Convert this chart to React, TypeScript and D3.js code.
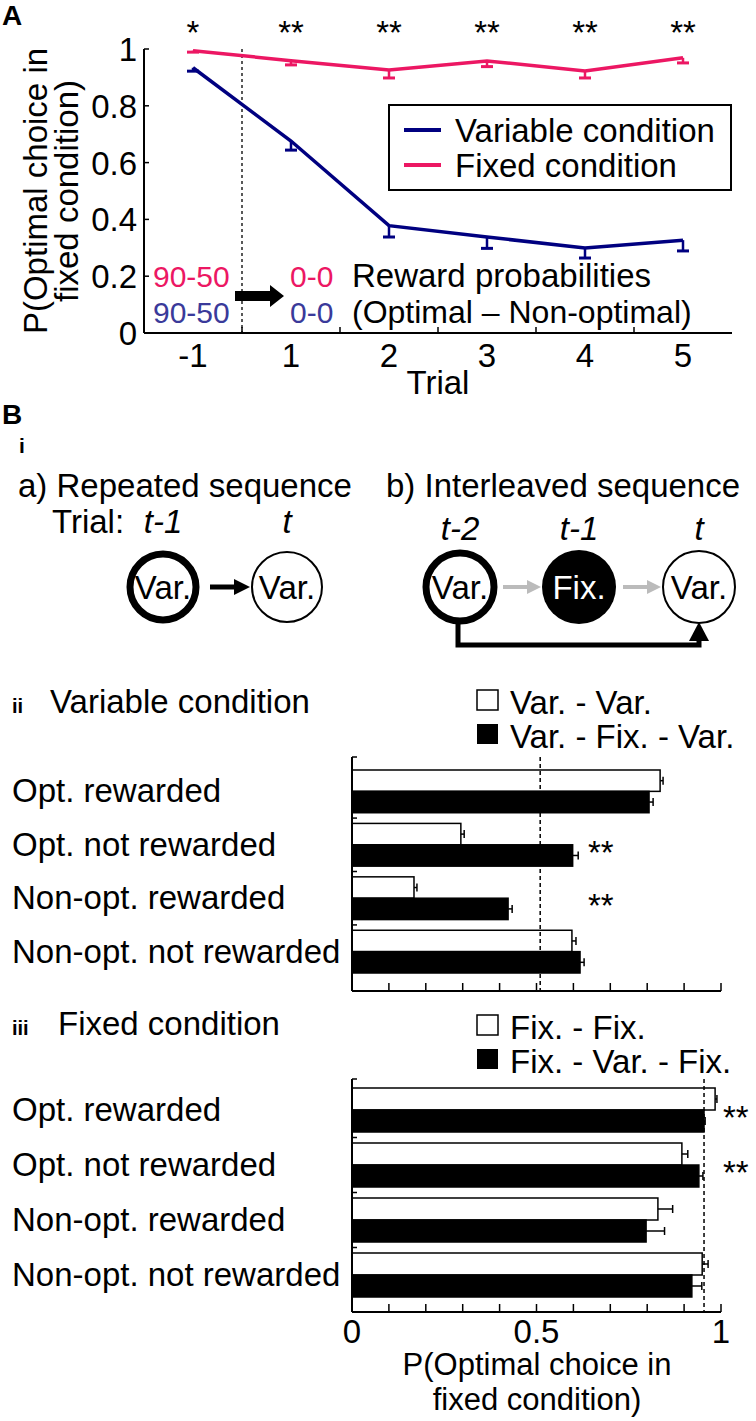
import React from 'react';
import * as d3 from 'd3';

// ---------- Panel A data ----------
const trials = ['-1', '1', '2', '3', '4', '5'];
const variableMean = [0.934, 0.676, 0.378, 0.338, 0.299, 0.327];
const variableErr = [0.012, 0.032, 0.04, 0.04, 0.035, 0.038];
const fixedMean = [0.994, 0.959, 0.926, 0.958, 0.923, 0.969];
const fixedErr = [0.005, 0.015, 0.028, 0.02, 0.025, 0.018];
const sigA = ['*', '**', '**', '**', '**', '**'];
const yTicksA = [0, 0.2, 0.4, 0.6, 0.8, 1];

// ---------- Panel B data ----------
const categories = ['Opt. rewarded', 'Opt. not rewarded', 'Non-opt. rewarded', 'Non-opt. not rewarded'];
const varRepeated = [0.835, 0.295, 0.168, 0.596];
const varRepeatedErr = [0.008, 0.009, 0.008, 0.011];
const varInterleaved = [0.805, 0.598, 0.423, 0.618];
const varInterleavedErr = [0.011, 0.015, 0.011, 0.011];
const varSig = ['', '**', '**', ''];
const varRef = 0.51;

const fixRepeated = [0.984, 0.894, 0.829, 0.949];
const fixRepeatedErr = [0.005, 0.016, 0.04, 0.016];
const fixInterleaved = [0.954, 0.94, 0.797, 0.921];
const fixInterleavedErr = [0.003, 0.011, 0.05, 0.027];
const fixSig = ['**', '**', '', ''];
const fixRef = 0.954;

const xTicksB = d3.range(0, 1.0001, 0.1);
const xTickLabelsB = [0, 0.5, 1];

const FONT = "'Liberation Sans', Arial, Helvetica, sans-serif";
const NAVY = '#000080';
const PINK = '#ec1763';
const BLUE_TXT = '#3a3a9a';

function PanelA() {
  const x = d3.scaleLinear().domain([-0.5, 5.5]).range([144, 732]);
  const y = d3.scaleLinear().domain([0, 1]).range([333, 49]);
  const line = d3.line<number>().x((_, i) => x(i)).y((d) => y(d));
  const boundaries = d3.range(0.5, 5.5, 1);
  const series = [
    { m: variableMean, e: variableErr, c: NAVY },
    { m: fixedMean, e: fixedErr, c: PINK },
  ];
  return (
    <g>
      <text x={2} y={25} fontSize={28} fontWeight="bold">A</text>
      {/* axes */}
      <line x1={144} x2={144} y1={y(1)} y2={y(0)} stroke="#000" strokeWidth={2} />
      <line x1={144} x2={x(5.5)} y1={y(0)} y2={y(0)} stroke="#000" strokeWidth={2} />
      {yTicksA.map((t) => (
        <g key={t}>
          <line x1={144} x2={149} y1={y(t)} y2={y(t)} stroke="#000" strokeWidth={1.5} />
          <text x={137} y={y(t) + 12} fontSize={33} textAnchor="end">{t === 0 || t === 1 ? String(t) : t.toFixed(1)}</text>
        </g>
      ))}
      {boundaries.map((b) => (
        <line key={b} x1={x(b)} x2={x(b)} y1={y(0)} y2={y(0) - 6} stroke="#000" strokeWidth={1.5} />
      ))}
      {trials.map((t, i) => (
        <text key={t} x={x(i)} y={367} fontSize={33} textAnchor="middle">{t}</text>
      ))}
      <text x={(144 + x(5.5)) / 2} y={394} fontSize={33} textAnchor="middle">Trial</text>
      <text transform={`translate(47,${y(0.5)}) rotate(-90)`} fontSize={33} textAnchor="middle">
        <tspan x={0} dy={0}>P(Optimal choice in</tspan>
        <tspan x={0} dy={31}>fixed condition)</tspan>
      </text>
      {/* dashed switch line */}
      <line x1={x(0.5)} x2={x(0.5)} y1={y(1)} y2={y(0)} stroke="#000" strokeWidth={1.3} strokeDasharray="3,3" />
      {/* significance */}
      {sigA.map((s, i) => (
        <text key={i} x={x(i)} y={44} fontSize={33} textAnchor="middle">{s}</text>
      ))}
      {/* series */}
      {series.map((s, k) => (
        <g key={k}>
          <path d={line(s.m) || ''} fill="none" stroke={s.c} strokeWidth={3.5} />
          {s.m.map((m, i) => (
            <g key={i}>
              <line x1={x(i)} x2={x(i)} y1={y(m)} y2={y(m - s.e[i])} stroke={s.c} strokeWidth={2.5} />
              <line x1={x(i) - 6} x2={x(i) + 6} y1={y(m - s.e[i])} y2={y(m - s.e[i])} stroke={s.c} strokeWidth={3} />
            </g>
          ))}
        </g>
      ))}
      {/* legend */}
      <rect x={389} y={105} width={342} height={85} fill="#fff" stroke="#000" strokeWidth={2} />
      <line x1={404} x2={441} y1={130} y2={130} stroke={NAVY} strokeWidth={4} />
      <line x1={404} x2={441} y1={165} y2={165} stroke={PINK} strokeWidth={4} />
      <text x={455} y={142} fontSize={33}>Variable condition</text>
      <text x={455} y={177} fontSize={33}>Fixed condition</text>
      {/* reward annotation */}
      <text x={153} y={287} fontSize={30} fill={PINK}>90-50</text>
      <text x={153} y={323} fontSize={30} fill={BLUE_TXT}>90-50</text>
      <text x={290} y={287} fontSize={30} fill={PINK}>0-0</text>
      <text x={290} y={323} fontSize={30} fill={BLUE_TXT}>0-0</text>
      <text x={352} y={287} fontSize={33}>Reward probabilities</text>
      <text x={352} y={323} fontSize={32}>(Optimal – Non-optimal)</text>
      <path d="M235,291 L270,291 L270,285 L284,296 L270,307 L270,301 L235,301 Z" fill="#000" />
    </g>
  );
}

function Arrow({ x1, x2, y, color, w = 4, hw = 14, hl = 12 }: any) {
  return (
    <g>
      <line x1={x1} x2={x2 - hl} y1={y} y2={y} stroke={color} strokeWidth={w} />
      <path d={`M${x2 - hl},${y - hw / 2} L${x2},${y} L${x2 - hl},${y + hw / 2} Z`} fill={color} />
    </g>
  );
}

function PanelBi() {
  return (
    <g>
      <text x={2} y={424} fontSize={28} fontWeight="bold">B</text>
      <text x={19} y={453} fontSize={21} fontWeight="bold">i</text>
      <text x={18} y={497} fontSize={33}>a) Repeated sequence</text>
      <text x={386} y={497} fontSize={33}>b) Interleaved sequence</text>
      <text x={52} y={533} fontSize={33}>Trial:</text>
      <text x={163} y={533} fontSize={33} fontStyle="italic" textAnchor="middle">t-1</text>
      <text x={287} y={533} fontSize={33} fontStyle="italic" textAnchor="middle">t</text>
      <circle cx={163} cy={587} r={33} fill="#fff" stroke="#000" strokeWidth={7} />
      <circle cx={287} cy={587} r={35} fill="#fff" stroke="#000" strokeWidth={2} />
      <text x={163} y={599} fontSize={33} textAnchor="middle">Var.</text>
      <text x={287} y={599} fontSize={33} textAnchor="middle">Var.</text>
      <Arrow x1={210} x2={250} y={587} color="#000" w={5} hw={16} hl={16} />

      <text x={460} y={540} fontSize={33} fontStyle="italic" textAnchor="middle">t-2</text>
      <text x={579} y={540} fontSize={33} fontStyle="italic" textAnchor="middle">t-1</text>
      <text x={699} y={540} fontSize={33} fontStyle="italic" textAnchor="middle">t</text>
      <path d="M458,620 L458,645 L699,645 L699,632" fill="none" stroke="#000" strokeWidth={5} />
      <path d="M689,641 L699,622 L709,641 Z" fill="#000" />
      <circle cx={460} cy={587} r={34} fill="#fff" stroke="#000" strokeWidth={7} />
      <circle cx={579} cy={587} r={37} fill="#000" />
      <circle cx={699} cy={587} r={36} fill="#fff" stroke="#000" strokeWidth={2} />
      <text x={460} y={599} fontSize={33} textAnchor="middle">Var.</text>
      <text x={579} y={599} fontSize={33} textAnchor="middle" fill="#fff">Fix.</text>
      <text x={699} y={599} fontSize={33} textAnchor="middle">Var.</text>
      <Arrow x1={503} x2={541} y={587} color="#bbbbbb" w={4} hw={14} hl={14} />
      <Arrow x1={623} x2={661} y={587} color="#bbbbbb" w={4} hw={14} hl={14} />
    </g>
  );
}

function BarPanel({ numeral, title, titleX, titleY, legend, legendY, rep, repErr, inter, interErr, sig, ref, axisTop, axisBottom, barTop, barBottom, showXLabels }: any) {
  const x = d3.scaleLinear().domain([0, 1]).range([352, 721]);
  const yb = d3.scaleBand<string>().domain(categories).range([barTop, barBottom]).paddingInner(0.2);
  const bh = yb.bandwidth() / 2;
  const step = yb.step();
  return (
    <g>
      <text x={12} y={titleY} fontSize={20} fontWeight="bold">{numeral}</text>
      <text x={titleX} y={titleY} fontSize={33}>{title}</text>
      {/* legend */}
      <rect x={477} y={legendY} width={21} height={20} fill="#fff" stroke="#000" strokeWidth={1.5} />
      <text x={510} y={legendY + 24} fontSize={33}>{legend[0]}</text>
      <rect x={477} y={legendY + 34} width={21} height={20} fill="#000" />
      <text x={510} y={legendY + 58} fontSize={33}>{legend[1]}</text>
      {/* category labels */}
      {categories.map((c) => (
        <text key={c} x={12} y={(yb(c) as number) + bh + 11} fontSize={33}>{c}</text>
      ))}
      {/* bars */}
      {categories.map((c, i) => {
        const y0 = yb(c) as number;
        return (
          <g key={c}>
            <rect x={x(0)} y={y0} width={x(rep[i]) - x(0)} height={bh} fill="#fff" stroke="#000" strokeWidth={1.5} />
            <rect x={x(0)} y={y0 + bh} width={x(inter[i]) - x(0)} height={bh} fill="#000" stroke="#000" strokeWidth={1.5} />
            <line x1={x(rep[i])} x2={x(rep[i] + repErr[i])} y1={y0 + bh / 2} y2={y0 + bh / 2} stroke="#000" strokeWidth={1.5} />
            <line x1={x(rep[i] + repErr[i])} x2={x(rep[i] + repErr[i])} y1={y0 + bh / 2 - 4} y2={y0 + bh / 2 + 4} stroke="#000" strokeWidth={1.5} />
            <line x1={x(inter[i])} x2={x(inter[i] + interErr[i])} y1={y0 + 1.5 * bh} y2={y0 + 1.5 * bh} stroke="#000" strokeWidth={1.5} />
            <line x1={x(inter[i] + interErr[i])} x2={x(inter[i] + interErr[i])} y1={y0 + 1.5 * bh - 4} y2={y0 + 1.5 * bh + 4} stroke="#000" strokeWidth={1.5} />
            {sig[i] && (
              <text x={ref > 0.9 ? 723 : 588} y={y0 + bh + 19} fontSize={33}>{sig[i]}</text>
            )}
          </g>
        );
      })}
      {/* dashed reference */}
      <line x1={x(ref)} x2={x(ref)} y1={axisTop} y2={axisBottom} stroke="#000" strokeWidth={1.5} strokeDasharray="4,3" />
      {/* axes */}
      <line x1={x(0)} x2={x(0)} y1={axisTop} y2={axisBottom} stroke="#000" strokeWidth={2} />
      <line x1={x(0)} x2={x(1)} y1={axisBottom} y2={axisBottom} stroke="#000" strokeWidth={2} />
      {categories.map((c, i) => {
        const ty = i === 0 ? axisTop : (yb(c) as number) - (step - yb.bandwidth()) / 2;
        return <line key={c} x1={x(0)} x2={x(0) + 5} y1={ty} y2={ty} stroke="#000" strokeWidth={1.5} />;
      })}
      {xTicksB.map((t) => (
        <line key={t} x1={x(t)} x2={x(t)} y1={axisBottom} y2={axisBottom - 8} stroke="#000" strokeWidth={1.5} />
      ))}
      {showXLabels && (
        <g>
          {xTickLabelsB.map((t) => (
            <text key={t} x={x(t)} y={axisBottom + 31} fontSize={33} textAnchor="middle">{String(t)}</text>
          ))}
          <text x={537} y={1375} fontSize={31} textAnchor="middle">
            <tspan x={537} dy={0}>P(Optimal choice in</tspan>
            <tspan x={537} dy={35}>fixed condition)</tspan>
          </text>
        </g>
      )}
    </g>
  );
}

export default function App() {
  return (
    <svg width={756} height={1421} viewBox="0 0 756 1421" style={{ position: 'absolute', left: 0, top: 0, background: '#fff' }} fontFamily={FONT}>
      <rect x={0} y={0} width={756} height={1421} fill="#fff" />
      <PanelA />
      <PanelBi />
      <BarPanel
        numeral="ii" title="Variable condition" titleX={50} titleY={713}
        legend={['Var. - Var.', 'Var. - Fix. - Var.']} legendY={690}
        rep={varRepeated} repErr={varRepeatedErr} inter={varInterleaved} interErr={varInterleavedErr}
        sig={varSig} ref={varRef} axisTop={757} axisBottom={991} barTop={770} barBottom={973} showXLabels={false}
      />
      <BarPanel
        numeral="iii" title="Fixed condition" titleX={58} titleY={1035}
        legend={['Fix. - Fix.', 'Fix. - Var. - Fix.']} legendY={1015}
        rep={fixRepeated} repErr={fixRepeatedErr} inter={fixInterleaved} interErr={fixInterleavedErr}
        sig={fixSig} ref={fixRef} axisTop={1079} axisBottom={1312} barTop={1088} barBottom={1297} showXLabels={true}
      />
    </svg>
  );
}
